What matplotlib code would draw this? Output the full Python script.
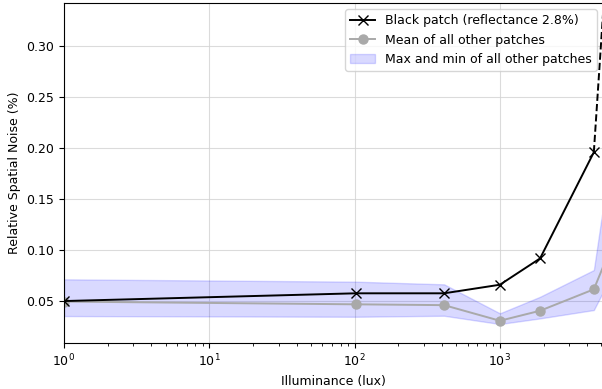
import numpy as np
import matplotlib
matplotlib.use('Agg')
from matplotlib import pyplot as plt

# Illuminance levels (lux); last level lies just beyond the plotted range
lux = [1, 102, 413, 1000, 1890, 4430, 5800]

black_patch = [0.050, 0.0576, 0.0576, 0.066, 0.0918, 0.1958, 0.447]
mean_other = [0.0495, 0.0468, 0.046, 0.0307, 0.0405, 0.0615, 0.102]
max_other = [0.0713, 0.069, 0.0664, 0.038, 0.0542, 0.0804, 0.193]
min_other = [0.0353, 0.0346, 0.0356, 0.0275, 0.033, 0.0412, 0.0737]

plt.rcParams['font.size'] = 9

fig = plt.figure(figsize=(6.02, 3.89), dpi=100)
ax = fig.add_axes([0.1063, 0.118, 0.8955, 0.874])

ax.fill_between(lux, min_other, max_other, color='blue', alpha=0.15,
                label='Max and min of all other patches')
ax.plot(lux, mean_other, '-o', color='darkgray', markersize=6.5, linewidth=1.4,
        label='Mean of all other patches')
ax.plot(lux[:-1], black_patch[:-1], '-x', color='k', markersize=6.5, linewidth=1.4,
        label='Black patch (reflectance 2.8%)')
ax.plot(lux[-2:], black_patch[-2:], '--', color='k', linewidth=1.4)

ax.set_xscale('log')
ax.set_xlim(1, 5130)
ax.set_ylim(0.0088, 0.342)
ax.grid(True, color='lightgray', alpha=0.8)
ax.set_axisbelow(True)

ax.set_xlabel('Illuminance (lux)')
ax.set_ylabel('Relative Spatial Noise (%)')

handles, labels = ax.get_legend_handles_labels()
order = [2, 1, 0]
ax.legend([handles[i] for i in order], [labels[i] for i in order], loc='upper right')

fig.savefig('out.png', dpi=100)
